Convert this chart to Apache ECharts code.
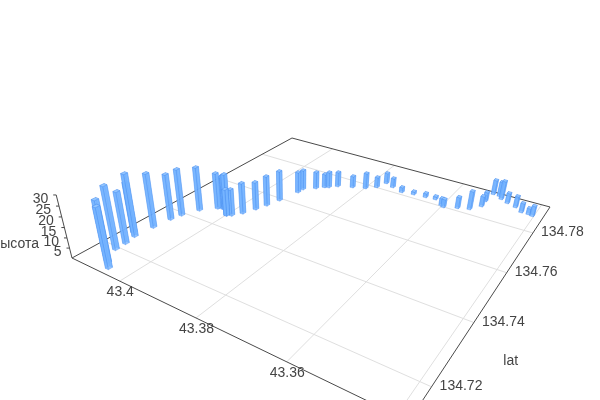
<!DOCTYPE html><html><head><meta charset="utf-8"><style>html,body{margin:0;height:100%;background:#fff}#c{width:600px;height:400px}</style>
<script src="https://cdn.jsdelivr.net/npm/echarts@6/dist/echarts.min.js"></script></head><body><div id="c"></div>
<script>
const lon=[43.4053,43.4071,43.4096,43.4097,43.4103,43.4118,43.4098,43.4092,43.4085,43.4067,43.4038,43.4030,43.4021,43.3999,43.3999,43.3989,43.3974,43.3961,43.3951,43.3941,43.3928,43.3927,43.3903,43.3888,43.3879,43.3863,43.3829,43.3799,43.3778,43.3768,43.3744,43.3713,43.3683,43.3652,43.3627,43.3603,43.3595,43.3565,43.3539,43.3520,43.3521,43.3517,43.3492,43.3501,43.3473,43.3450,43.3431,43.3414,43.3404];
const lat=[134.7133,134.7147,134.7192,134.7222,134.7255,134.7266,134.7309,134.7360,134.7390,134.7434,134.7468,134.7474,134.7474,134.7453,134.7453,134.7460,134.7484,134.7519,134.7551,134.7592,134.7657,134.7679,134.7704,134.7723,134.7729,134.7748,134.7766,134.7781,134.7804,134.7841,134.7829,134.7816,134.7823,134.7826,134.7830,134.7808,134.7801,134.7817,134.7829,134.7862,134.7895,134.7946,134.7930,134.7944,134.7917,134.7907,134.7889,134.7889,134.7885];
const height=[29.1,29.8,30.9,25.7,31.1,25.2,27.4,23.4,24.1,22.8,18.8,16.7,18.3,21.6,13.9,13.9,16.1,14.6,15.8,16.0,11.3,10.8,9.2,7.5,8.6,8.1,6.4,8.6,5.8,5.9,5.2,2.9,1.7,2.3,1.7,3.9,4.5,6.1,9.9,5.6,5.1,8.0,10.1,8.0,5.6,6.1,5.0,3.3,5.5];
const lonTicks=[43.34,43.36,43.38,43.40];
const latTicks=[134.72,134.74,134.76,134.78];
const heightTicks=[5,10,15,20,25,30];
const lonRange=[43.4144,43.338],latRange=[134.7113,134.7957],heightMax=30;

// pinhole camera fitted to the picture: world (u,v,t) in the unit box -> screen
const CAM=[[218.6,355.6,-19.5,72],[41.1,-55.9,-75.9,258],[-0.2895,0.4644,-0.066,1]];
const uOf=a=>(a-lonRange[0])/(lonRange[1]-lonRange[0]);
const vOf=a=>(a-latRange[0])/(latRange[1]-latRange[0]);
const tOf=a=>a/heightMax;
function pr(u,v,t){const w=CAM[2][0]*u+CAM[2][1]*v+CAM[2][2]*t+CAM[2][3];
  return [(CAM[0][0]*u+CAM[0][1]*v+CAM[0][2]*t+CAM[0][3])/w,(CAM[1][0]*u+CAM[1][1]*v+CAM[1][2]*t+CAM[1][3])/w];}
const depth=(u,v)=>CAM[2][0]*u+CAM[2][1]*v+CAM[2][3];

const GRID='#dfdfdf',EDGE='#4a4a4a',TXT='#444';
const line=(a,b,c,w)=>({type:'line',silent:true,shape:{x1:a[0],y1:a[1],x2:b[0],y2:b[1]},style:{stroke:c,lineWidth:w,fill:null}});
const label=(p,s,al,extra)=>({type:'text',silent:true,x:p[0],y:p[1],style:Object.assign({text:String(s),fill:TXT,font:'14px "Liberation Sans",Arial,sans-serif',align:al,verticalAlign:'middle'},extra||{})});

const barRows=lon.map((l,i)=>[l,lat[i],height[i]]).sort((a,b)=>depth(uOf(b[0]),vOf(b[1]))-depth(uOf(a[0]),vOf(a[1])));
const HU=0.0056,HV=0.0067;
const SIDE='rgba(118,180,255,0.8)',TOP='rgba(150,200,255,0.9)',RIM='rgba(60,130,235,0.45)';
function face(pts,fill){return {type:'polygon',silent:true,shape:{points:pts},style:{fill:fill,stroke:RIM,lineWidth:0.6}};}
function renderBar(params,api){
  const u=uOf(api.value(0)),v=vOf(api.value(1)),t=tOf(api.value(2));
  const c=[[u-HU,v-HV],[u+HU,v-HV],[u+HU,v+HV],[u-HU,v+HV]];
  const lo=c.map(q=>pr(q[0],q[1],0)),hi=c.map(q=>pr(q[0],q[1],t));
  const side=i=>{const j=(i+1)%4;return face([lo[i],lo[j],hi[j],hi[i]],SIDE);};
  return {type:'group',children:[side(2),side(3),side(1),side(0),face(hi,TOP)]};
}
function renderFrame(){
  const k=[];
  lonTicks.forEach(a=>k.push(line(pr(uOf(a),0,0),pr(uOf(a),1,0),GRID,1)));
  latTicks.forEach(a=>k.push(line(pr(0,vOf(a),0),pr(1,vOf(a),0),GRID,1)));
  k.push(line(pr(0,0,0),pr(1,0,0),EDGE,1),line(pr(1,0,0),pr(1,1,0),EDGE,1),line(pr(1,1,0),pr(0,1,0),EDGE,1),line(pr(0,1,0),pr(0,0,0),EDGE,1),line(pr(0,0,0),pr(0,0,1),EDGE,1));
  heightTicks.forEach(a=>{const p=pr(0,0,tOf(a));k.push(line(p,[p[0]-3,p[1]],EDGE,1));k.push(label([p[0]-8,p[1]+4.5],a,'right'));});
  lonTicks.forEach(a=>{const p=pr(uOf(a),0,0);k.push(label([p[0]+0.5,p[1]+11],+a.toFixed(2),'center'));});
  latTicks.forEach(a=>{const p=pr(1,vOf(a),0);k.push(label([p[0]+29.5,p[1]-0.5],a,'center'));});
  k.push(label([39,244],'высота','right'));
  k.push(label([510.7,361],'lat','center'));
  return {type:'group',children:k};
}
const chart=echarts.init(document.getElementById('c'),null,{renderer:'canvas'});
chart.setOption({animation:false,backgroundColor:'#fff',series:[
 {type:'custom',coordinateSystem:'none',silent:true,data:[[0]],renderItem:renderFrame,z:1,clip:false},
 {type:'custom',coordinateSystem:'none',silent:true,dimensions:['lon','lat','height'],data:barRows,renderItem:renderBar,z:2,clip:false}
]});
</script></body></html>
